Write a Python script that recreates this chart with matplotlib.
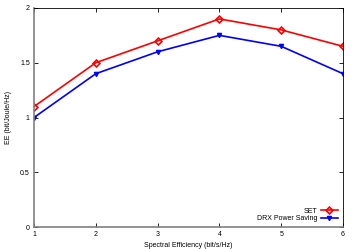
import numpy as np
import matplotlib.pyplot as plt

se = [1, 2, 3, 4, 5, 6]
ee_set = [1.1, 1.5, 1.7, 1.9, 1.8, 1.65]
ee_drx = [1.0, 1.4, 1.6, 1.75, 1.65, 1.4]

plt.rcParams['font.family'] = 'Liberation Sans'
plt.rcParams['font.size'] = 5


def main():
    fig = plt.figure(figsize=(3.56, 2.49), dpi=100)
    ax = fig.add_axes([0.0955, 0.088, 0.868, 0.88])

    ax.plot(se, ee_set, color='red', lw=1.2, marker='D', ms=3.5,
            mfc='none', mew=1.2, label='SET')
    ax.plot(se, ee_drx, color='blue', lw=1.2, marker='v', ms=3,
            label='DRX Power Saving')

    ax.set_xlim(1, 6)
    ax.set_ylim(0, 2)
    ax.set_xticks(se)
    ax.set_yticks([0, 0.5, 1, 1.5, 2])
    ax.set_yticklabels(['0', '0.5', '1', '1.5', '2'])
    ax.tick_params(direction='in', top=True, right=True, length=3,
                   width=0.6, labelsize=5, pad=3)
    for s in ax.spines.values():
        s.set_linewidth(0.6)
    for s in ['left', 'bottom']:
        ax.spines[s].set_color('gray')
        ax.spines[s].set_linewidth(1.2)

    ax.set_xlabel('Spectral Efficiency (bit/s/Hz)', fontsize=5, labelpad=3)
    ax.set_ylabel('EE (bit/Joule/Hz)', fontsize=5, labelpad=6)

    ax.legend(loc='lower right', frameon=False, markerfirst=False,
              fontsize=5, handlelength=2.5, borderaxespad=0.3,
              labelspacing=0.1, handletextpad=0.5)

    fig.savefig('out.png', dpi=100)


if __name__ == "__main__":
    main()
